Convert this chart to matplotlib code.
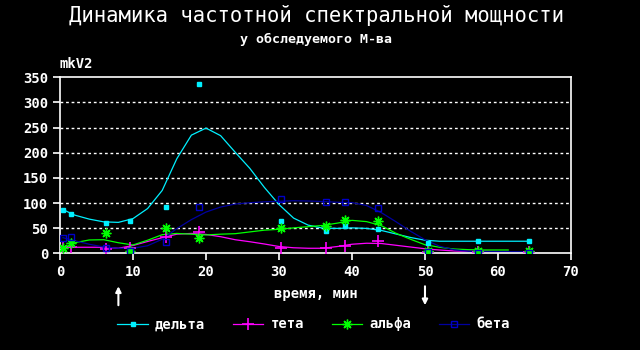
import numpy as np
import matplotlib
matplotlib.use("Agg")
from matplotlib import pyplot as plt
from matplotlib import transforms

# measurement times, min
t = [0.4, 1.5, 6.3, 9.6, 14.5, 19.0, 30.3, 36.4, 39.1, 43.5, 50.4, 57.3, 64.2]

# spectral power per band, mkV2
delta = [87, 78, 60, 64, 93, 336, 64, 44, 54, 49, 20, 24, 24]
theta = [12, 13, 9, 10, 33, 43, 11, 10, 15, 24, 3, 3, 3]
alpha = [10, 20, 40, 5, 50, 30, 50, 54, 67, 64, 4, 4, 4]
beta = [30, 33, 10, 5, 23, 92, 107, 103, 103, 91, 2, 1, 1]

# smoothed trend curves
trend_t = [0.4, 2, 4, 6, 8, 10, 12, 14, 16, 18, 20, 22, 24, 26, 28, 30, 32,
           34, 36, 38, 40, 42, 44, 46, 48, 50, 52, 54, 56, 58, 60, 61.4, 64.2]
delta_tr = [87, 76, 68, 62.5, 61.5, 69, 89, 125, 188, 235, 249, 234, 201, 169,
            131, 97, 70, 56, 50, 49.5, 50.5, 49.5, 45.5, 38.5, 31.5, 26, 24,
            24, 24, 24, 24, 24, 24]
theta_tr = [12, 12, 12, 12, 10, 15.5, 23.5, 31, 38, 39.5, 37.5, 33, 27, 23,
            18.5, 13.5, 11, 10, 10, 13.5, 18, 20, 19.5, 16, 12.5, 9, 6.5, 4.6,
            4, 4, 3.5, 3.5, np.nan]
alpha_tr = [10, 21, 26.5, 27, 21, 16.5, 26, 37, 39.5, 38, 36.5, 38, 39, 42.5,
            46, 47.7, 50.5, 53, 55.5, 60, 65.5, 63, 55, 40, 28, 17, 12, 8.5,
            7.2, 6.6, 6.6, 6.6, np.nan]
beta_tr = [31, 25, 18, 12.5, 10, 10, 15, 28, 49, 67, 82, 92, 98, 100.5, 102.4,
           103.5, 104.5, 104, 103, 101.5, 100.8, 95, 81, 63, 44, 27, 14, 7, 4,
           3.3, 3.3, 3.3, 3]

bands = [
    ("дельта", delta, delta_tr, "#00f0ff", dict(marker="s", ms=3.5, mfc="#00f0ff", mec="#00f0ff")),
    ("тета", theta, theta_tr, "#ff00ff", dict(marker="+", ms=9, mew=1.2)),
    ("альфа", alpha, alpha_tr, "#00ff00", dict(marker=(8, 2, 0), ms=7, mew=1)),
    ("бета", beta, beta_tr, "#0000a0", dict(marker="s", ms=5, mfc="none", mec="#0000c8", mew=1)),
]

mono = "DejaVu Sans Mono"

fig = plt.figure(figsize=(6.4, 3.5), dpi=100, facecolor="black")
ax = fig.add_axes([0.09375, 0.2763, 0.7984, 0.5028], facecolor="black")

handles = []
for name, vals, tr, col, mk in bands:
    ax.plot(trend_t, tr, color=col, lw=0.9, zorder=2)
    ax.plot(t, vals, ls="none", color=col, zorder=3, **mk)
    h, = ax.plot([], [], color=col, lw=0.9, label=name, **mk)
    handles.append(h)

ax.set_xlim(0, 70)
ax.set_ylim(0, 350)
ax.set_xticks(np.arange(0, 71, 10))
ax.set_yticks(np.arange(0, 351, 50))
for sp in ax.spines.values():
    sp.set_color("white")
    sp.set_linewidth(1.2)
ax.tick_params(colors="white", length=5, width=1.2, direction="out")
for lab in ax.get_xticklabels() + ax.get_yticklabels():
    lab.set_family(mono)
    lab.set_fontweight("bold")
    lab.set_fontsize(10)
for yv in range(50, 350, 50):
    ax.axhline(yv, color="white", lw=1, ls=(0, (2, 2)), zorder=1)

ax.set_xlabel("время, мин", color="white", family=mono, fontweight="bold",
              fontsize=10, labelpad=6)
ax.text(0, 1.035, "mkV2", transform=ax.transAxes, color="white", family=mono,
        fontweight="bold", fontsize=10, va="bottom", ha="left")

fig.text(0.494, 0.955, "Динамика частотной спектральной мощности", color="white",
         family=mono, fontsize=14.8, ha="center", va="center")
fig.text(0.494, 0.888, "у обследуемого М-ва", color="white", family=mono,
         fontweight="bold", fontsize=9.5, ha="center", va="center")

# event arrows below the time axis
tr_mix = transforms.blended_transform_factory(ax.transData, fig.transFigure)
ax.annotate("", xy=(8, 0.19), xytext=(8, 0.12), xycoords=tr_mix,
            arrowprops=dict(arrowstyle="-|>", color="white", lw=1.5, mutation_scale=8),
            annotation_clip=False)
ax.annotate("", xy=(50, 0.12), xytext=(50, 0.19), xycoords=tr_mix,
            arrowprops=dict(arrowstyle="-|>", color="white", lw=1.5, mutation_scale=8),
            annotation_clip=False)

leg = fig.legend(handles=handles, loc="center", bbox_to_anchor=(0.49, 0.073),
                 ncol=4, frameon=False, numpoints=1, handlelength=2.2,
                 handletextpad=0.5, columnspacing=2.0,
                 prop=dict(family=mono, weight="bold", size=10))
for txt in leg.get_texts():
    txt.set_color("white")

fig.savefig("out.png", dpi=100, facecolor="black")
